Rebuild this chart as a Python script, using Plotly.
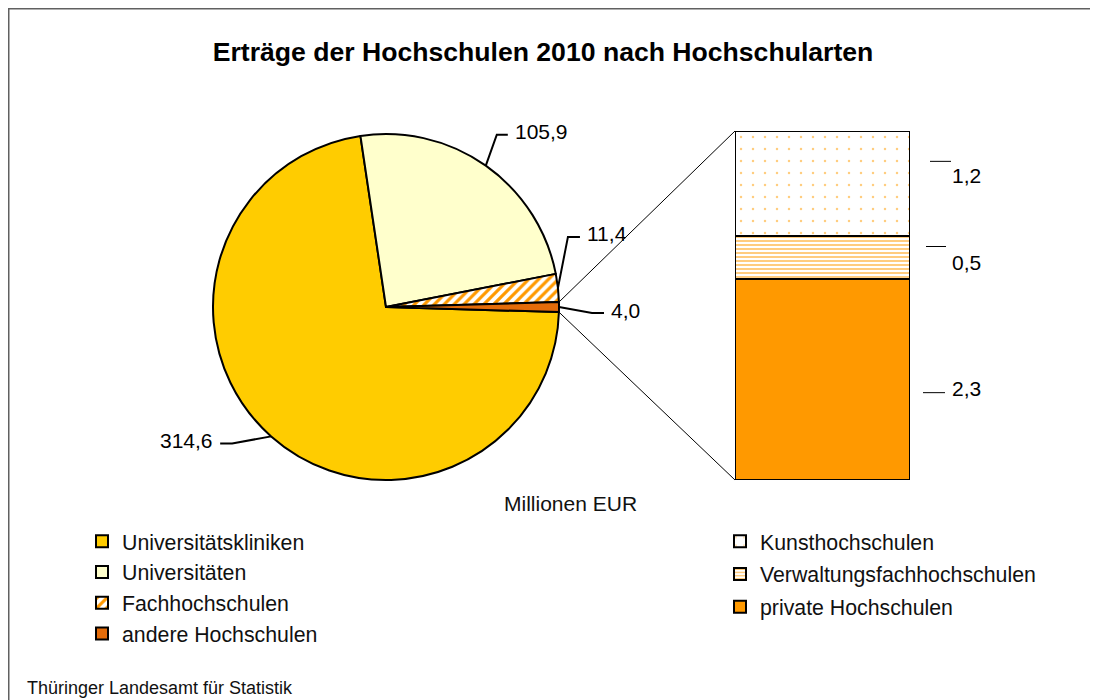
import math
import plotly.graph_objects as go

# the page adds an 8px body margin, so the figure is drawn at (8, 8) in the window
OFF = 8
W, H = 1090, 692
FONT = "Liberation Sans, Arial, sans-serif"

# data
PIE_LABELS = ['Universitätskliniken', 'Universitäten', 'Fachhochschulen', 'andere Hochschulen']
PIE_VALUES = [314.6, 105.9, 11.4, 4.0]
BAR_LABELS = ['private Hochschulen', 'Verwaltungsfachhochschulen', 'Kunsthochschulen']
BAR_VALUES = [2.3, 0.5, 1.2]

COLORS = {
    'kliniken': '#FFCC00',
    'uni': '#FFFFCC',
    'orange': '#FF9900',
    'andere': '#E46C0A',
    'frame': '#606060',
}

# geometry (window pixels)
PIE_CX, PIE_CY, PIE_R = 386, 307, 173
BAR_X0, BAR_X1, BAR_TOP, BAR_BOTTOM = 735, 910, 131, 480
START_DEG = -8.5  # where "Universitäten" starts, clockwise from 12 o'clock

# label leader styling per pie slice: (elbow dx, elbow dy, horizontal length)
PIE_LEADERS = [(-39, 7, -12), (11, -31, 11), (10, -51, 12), (33, 6, 12)]
# bar label styling: (label yshift px, tick line offset px, tick x0, tick x1)
BAR_LEADERS = [(-9, -13, 923, 945), (-5, 11, 926, 946), (8, 22, 930, 951)]


def paper(x, y):
    return (x - OFF) / W, 1 - (y - OFF) / H


def fmt(v):
    return f"{v:.1f}".replace('.', ',')


total = sum(PIE_VALUES)
rotation = START_DEG - 360 * PIE_VALUES[0] / total

fig = go.Figure()

px0, py1 = paper(PIE_CX - PIE_R, PIE_CY - PIE_R)
px1, py0 = paper(PIE_CX + PIE_R, PIE_CY + PIE_R)
fig.add_trace(go.Pie(
    labels=PIE_LABELS,
    values=PIE_VALUES,
    sort=False,
    direction='clockwise',
    rotation=rotation,
    textinfo='none',
    hoverinfo='label+value',
    domain=dict(x=[px0, px1], y=[py0, py1]),
    marker=dict(
        colors=[COLORS['kliniken'], COLORS['uni'], COLORS['orange'], COLORS['andere']],
        line=dict(color='black', width=2),
        pattern=dict(shape=['', '', '/', ''], size=7, solidity=0.45,
                     bgcolor='white', fillmode='replace'),
    ),
    legend='legend',
))

bar_styles = [
    dict(color=COLORS['orange']),
    dict(color=COLORS['orange'], pattern=dict(shape='-', size=4, solidity=0.5,
                                              fgcolor=COLORS['orange'], bgcolor='white')),
    dict(color=COLORS['orange'], pattern=dict(shape='.', size=12, solidity=0.035,
                                              fgcolor=COLORS['orange'], bgcolor='white')),
]
n_bar = len(BAR_LABELS)
for i, (name, val, st) in enumerate(zip(BAR_LABELS, BAR_VALUES, bar_styles)):
    fig.add_trace(go.Bar(
        x=[0], y=[val], name=name, width=1,
        marker=dict(line=dict(color='black', width=2), **st),
        cliponaxis=False,
        legend='legend2',
        legendgroup=name,
        legendrank=n_bar - i,  # top of the stack listed first
    ))

shapes = []
annotations = []

# pie value labels with leader lines
cum = rotation
for i, (lab, v) in enumerate(zip(PIE_LABELS, PIE_VALUES)):
    span = 360 * v / total
    mid = math.radians(cum + span / 2)
    cum += span
    px = PIE_CX + PIE_R * math.sin(mid)
    py = PIE_CY - PIE_R * math.cos(mid)
    dx, dy, hl = PIE_LEADERS[i]
    ex, ey = px + dx, py + dy
    hx = ex + hl
    p0, p1, p2 = paper(px, py), paper(ex, ey), paper(hx, ey)
    shapes.append(dict(type='path', xref='paper', yref='paper',
                       path=f"M{p0[0]},{p0[1]} L{p1[0]},{p1[1]} L{p2[0]},{p2[1]}",
                       line=dict(color='black', width=2)))
    side = 1 if hl > 0 else -1
    tx, ty = paper(hx + 5 * side, ey - 3)
    annotations.append(dict(x=tx, y=ty, xref='paper', yref='paper', text=fmt(v),
                            showarrow=False, xanchor='left' if side > 0 else 'right',
                            yanchor='middle', font=dict(size=21, color='black')))

# connector lines from the "andere Hochschulen" slice to the bar
a_start = math.radians(rotation + 360 * sum(PIE_VALUES[:3]) / total)
a_end = math.radians(rotation + 360)
for ang, by in [(a_start, BAR_TOP), (a_end, BAR_BOTTOM)]:
    x0, y0 = paper(PIE_CX + PIE_R * math.sin(ang), PIE_CY - PIE_R * math.cos(ang))
    x1, y1 = paper(BAR_X0, by)
    shapes.append(dict(type='line', xref='paper', yref='paper', x0=x0, y0=y0, x1=x1, y1=y1,
                       line=dict(color='black', width=1)))

# bar value labels
base = 0
for v, (ysh, lsh, lx0, lx1) in zip(BAR_VALUES, BAR_LEADERS):
    mid = base + v / 2
    base += v
    shapes.append(dict(type='line', xref='paper', yref='y', ysizemode='pixel', yanchor=mid,
                       x0=paper(lx0, 0)[0], x1=paper(lx1, 0)[0], y0=lsh, y1=lsh,
                       line=dict(color='black', width=1)))
    annotations.append(dict(x=paper(950, 0)[0], y=mid, xref='paper', yref='y', yshift=ysh,
                            text=fmt(v), showarrow=False, xanchor='left', yanchor='middle',
                            font=dict(size=21, color='black')))

# frame (top and left edges visible)
fx, fy = paper(8.5, 8.5)
shapes.append(dict(type='rect', xref='paper', yref='paper', x0=fx, y0=-0.05, x1=1.05, y1=fy,
                   line=dict(color=COLORS['frame'], width=2), layer='below'))

mx, my = paper(571, 503)
annotations.append(dict(x=mx, y=my, xref='paper', yref='paper', text='Millionen EUR',
                        showarrow=False, xanchor='center', yanchor='middle', font=dict(size=21)))
sx, sy = paper(25, 688)
annotations.append(dict(x=sx, y=sy, xref='paper', yref='paper',
                        text='Thüringer Landesamt für Statistik',
                        showarrow=False, xanchor='left', yanchor='middle', font=dict(size=18)))

tx, ty = paper(543, 52)
lx, ly = paper(82, 521)
l2x, l2y = paper(720, 521)
fig.update_layout(
    width=W, height=H,
    margin=dict(l=0, r=0, t=0, b=0),
    paper_bgcolor='white', plot_bgcolor='rgba(0,0,0,0)',
    font=dict(family=FONT, color='#111111', size=21),
    title=dict(text='<b>Erträge der Hochschulen 2010 nach Hochschularten</b>',
               x=tx, y=ty, xanchor='center', yanchor='middle',
               font=dict(size=26.6, color='black')),
    barmode='stack',
    xaxis=dict(domain=[paper(BAR_X0, 0)[0], paper(BAR_X1, 0)[0]], range=[-0.5, 0.5],
               visible=False),
    yaxis=dict(domain=[paper(0, BAR_BOTTOM)[1], paper(0, BAR_TOP)[1]],
               range=[0, sum(BAR_VALUES)], visible=False),
    legend=dict(x=lx, y=ly, xanchor='left', yanchor='top',
                font=dict(size=21.3), bgcolor='rgba(0,0,0,0)'),
    legend2=dict(x=l2x, y=l2y, xanchor='left', yanchor='top',
                 traceorder='grouped', tracegroupgap=2,
                 font=dict(size=21.3), bgcolor='rgba(0,0,0,0)'),
    shapes=shapes,
    annotations=annotations,
    showlegend=True,
)

fig.write_html("out.html")
